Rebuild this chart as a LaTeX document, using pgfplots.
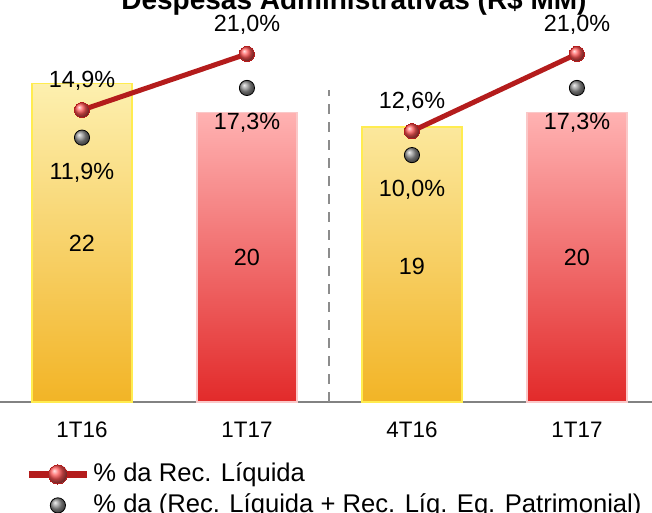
\documentclass[border=0pt]{standalone}
\usepackage{pgfplots}
\pgfplotsset{compat=1.18}
\usepackage{fontspec}
\setmainfont{Liberation Sans}
\definecolor{yelTop}{RGB}{253,240,175}
\definecolor{yelMid}{RGB}{248,210,85}
\definecolor{yelBot}{RGB}{242,180,38}
\definecolor{yelEdge}{RGB}{255,236,80}
\definecolor{redTop}{RGB}{255,178,178}
\definecolor{redMid}{RGB}{243,105,105}
\definecolor{redBot}{RGB}{226,42,42}
\definecolor{redEdge}{RGB}{250,200,200}
\definecolor{lineRed}{RGB}{180,28,28}
\definecolor{ballRed}{RGB}{255,85,85}
\definecolor{axGray}{RGB}{130,130,130}
\definecolor{dashGray}{RGB}{140,140,140}
\pgfplotsset{
  lineleg/.style={legend image code/.code={\draw[mark repeat=2, mark phase=2, ##1, line width=3.5pt, mark size=4.8pt] plot coordinates {(0pt,0pt) (14.5pt,0pt) (29pt,0pt)};}},
  markleg/.style={legend image code/.code={\path[draw=none, fill=none] (0pt,0pt) -- (29pt,0pt); \draw[##1] plot coordinates {(14.5pt,0pt)};}},
}
\begin{document}
\begin{tikzpicture}
\begin{axis}[
  name=main,
  scale only axis, width=326pt, height=186pt,
  xmin=-0.497, xmax=3.455, ymin=0, ymax=25.71,
  axis y line=none, axis x line*=bottom,
  x axis line style={draw=axGray, line width=0.8pt, -},
  xtick={0,1,2,3}, xticklabels={1T16,1T17,4T16,1T17},
  major tick length=0pt,
  xticklabel style={anchor=center, yshift=-14pt, font=\fontsize{11.2}{13}\selectfont},
  /pgf/number format/assume math mode=true,
  clip=false,
]
\addplot[ybar, bar width=50pt, bar shift=0pt, draw=yelEdge, line width=0.8pt,
  top color=yelTop, middle color=yelMid, bottom color=yelBot] coordinates {(0,22) (2,19)};
\addplot[ybar, bar width=50pt, bar shift=0pt, draw=redEdge, line width=0.8pt,
  top color=redTop, middle color=redMid, bottom color=redBot] coordinates {(1,20) (3,20)};
\addplot[draw=dashGray, line width=1pt, dash pattern=on 5pt off 4pt] coordinates {(1.5,0) (1.5,21.56)};
\addplot[draw=none, mark=none, nodes near coords, point meta=explicit symbolic,
  every node near coord/.style={anchor=center, font=\fontsize{11.7}{14}\selectfont}]
  coordinates {(0,11)[22] (1,10)[20] (2,9.4)[19] (3,10)[20]};
\end{axis}
\begin{axis}[
  at={(main.south west)}, anchor=south west,
  scale only axis, width=326pt, height=186pt,
  xmin=-0.497, xmax=3.455, ymin=-16.84, ymax=23.60,
  axis lines=none, clip=false,
  legend cell align=left,
  legend style={at={(rel axis cs:0,0)}, anchor=north west, xshift=12.5pt, yshift=-28.5pt,
    draw=none, fill=none, inner xsep=0pt, inner ysep=0pt, row sep=0.5pt,
    nodes={inner sep=1.5pt, text height=9.5pt, text depth=2.5pt},
    font=\fontsize{12.8}{15}\selectfont},
]
\addplot[draw=lineRed, line width=2.5pt, mark=ball, mark size=3.8pt,
  mark options={ball color=ballRed, line width=0pt},
  nodes near coords, point meta=explicit symbolic,
  every node near coord/.style={anchor=center, yshift=14.5pt, font=\fontsize{11.7}{14}\selectfont, text=black},
  lineleg]
  coordinates {(0,14.9)[{14,9\%}] (1,21.0)[{21,0\%}]};
\addlegendentry{\% da Rec. Líquida}
\addplot[draw=lineRed, line width=2.5pt, mark=ball, mark size=3.8pt,
  mark options={ball color=ballRed, line width=0pt},
  nodes near coords, point meta=explicit symbolic,
  every node near coord/.style={anchor=center, yshift=14.5pt, font=\fontsize{11.7}{14}\selectfont, text=black},
  forget plot]
  coordinates {(2,12.6)[{12,6\%}] (3,21.0)[{21,0\%}]};
\addplot[only marks, mark=ball, mark size=3.8pt, mark options={ball color=gray!85},
  nodes near coords, point meta=explicit symbolic,
  every node near coord/.style={anchor=center, yshift=-17.5pt, font=\fontsize{11.7}{14}\selectfont, text=black},
  markleg]
  coordinates {(0,11.9)[{11,9\%}] (1,17.3)[{17,3\%}] (2,10.0)[{10,0\%}] (3,17.3)[{17,3\%}]};
\addlegendentry{\% da (Rec. Líquida + Rec. Líq. Eq. Patrimonial)}
\end{axis}
\node[anchor=base, xshift=177pt, yshift=10pt, font=\bfseries\fontsize{14}{17}\selectfont] at (main.north west) {Despesas Administrativas (R\$ MM)};
\pgfresetboundingbox
\path[use as bounding box] ([yshift=-55.5pt]main.south west) rectangle ([yshift=15pt]main.north east);
\end{tikzpicture}
\end{document}
